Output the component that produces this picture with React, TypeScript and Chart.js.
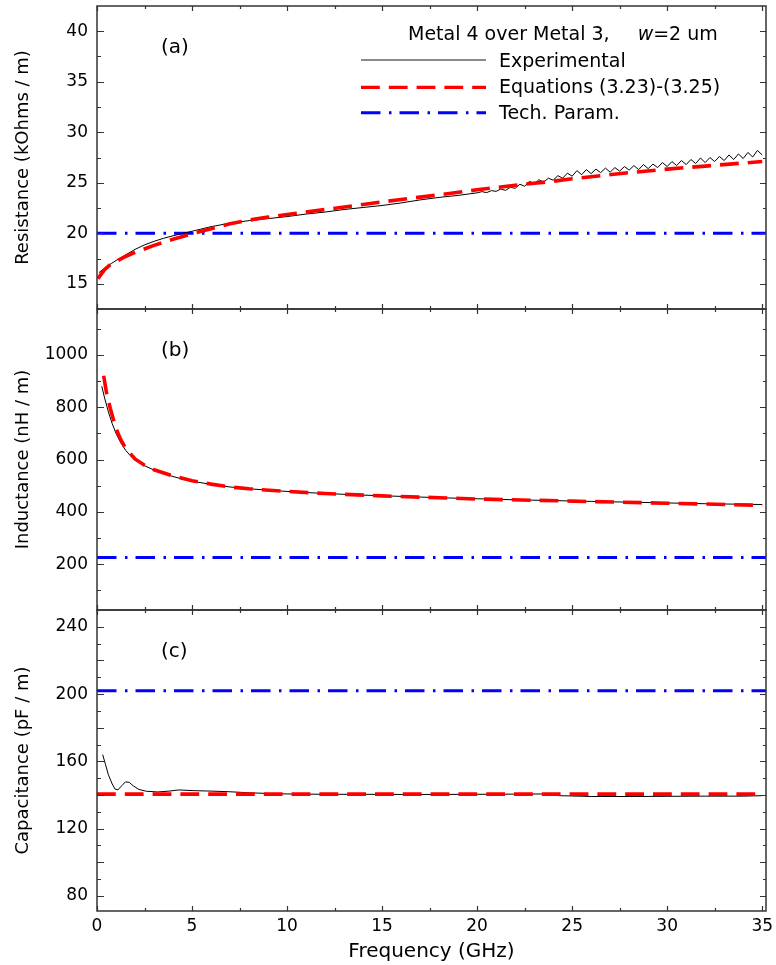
import { useEffect, useRef } from 'react';
import { Chart, registerables } from 'chart.js';

Chart.register(...registerables);

// ---------- tick values ----------
const freqTicks = [0, 5, 10, 15, 20, 25, 30, 35];
const freqMinorTicks = [2.5, 7.5, 12.5, 17.5, 22.5, 27.5, 32.5];
const resTicks = [15, 20, 25, 30, 35, 40];
const resMinorTicks = [17.5, 22.5, 27.5, 32.5, 37.5];
const indTicks = [200, 400, 600, 800, 1000];
const indMarkTicks = [200, 400, 600, 800, 1000];
const indMinorTicks = [100, 300, 500, 700, 900, 1100];
const capTicks = [80, 120, 160, 200, 240];
const capMarkTicks = [80, 100, 120, 140, 160, 180, 200, 220, 240];
const capMinorTicks = [90, 110, 130, 150, 170, 190, 210, 230];

// ---------- series (frequency GHz, value) ----------
const expResistance: [number, number][] = [
  [0.1, 16.1], [0.3, 16.4], [0.5, 16.7], [0.75, 17.0], [1, 17.3], [1.5, 17.85], [2, 18.4], [2.5, 18.85],
  [3, 19.2], [3.5, 19.5], [4, 19.75], [5, 20.2], [6, 20.65], [7, 21.0], [8, 21.25], [9, 21.45],
  [10, 21.65], [11, 21.9], [12, 22.1], [13, 22.35], [14, 22.55], [15, 22.75], [16, 23.0], [17, 23.3],
  [18, 23.55], [19, 23.75],
  [20.0, 24.0], [20.25, 24.12], [20.5, 24.02], [20.75, 24.22], [21.0, 24.15], [21.25, 24.38],
  [21.5, 24.25], [21.75, 24.55], [22.0, 24.45], [22.25, 24.85], [22.5, 24.65], [22.75, 25.15],
  [23.0, 24.9], [23.25, 25.3], [23.5, 25.05], [23.75, 25.45], [24.0, 25.25], [24.25, 25.7],
  [24.5, 25.45], [24.75, 25.95], [25.0, 25.65], [25.25, 26.2], [25.5, 25.8], [25.75, 26.3],
  [26.0, 25.9], [26.25, 26.35], [26.5, 26.0], [26.75, 26.45], [27.0, 26.05], [27.25, 26.5],
  [27.5, 26.15], [27.75, 26.6], [28.0, 26.25], [28.25, 26.7], [28.5, 26.3], [28.75, 26.8],
  [29.0, 26.4], [29.25, 26.85], [29.5, 26.5], [29.75, 27.0], [30.0, 26.6], [30.25, 27.1],
  [30.5, 26.7], [30.75, 27.2], [31.0, 26.8], [31.25, 27.3], [31.5, 26.9], [31.75, 27.45],
  [32.0, 27.0], [32.25, 27.5], [32.5, 27.1], [32.75, 27.6], [33.0, 27.2], [33.25, 27.75],
  [33.5, 27.3], [33.75, 27.85], [34.0, 27.4], [34.25, 28.0], [34.5, 27.55], [34.75, 28.2],
  [35.0, 27.75],
];
const eqResistance: [number, number][] = [
  [0.05, 15.5], [0.2, 15.9], [0.4, 16.4], [0.7, 16.9], [1, 17.2], [1.5, 17.7], [2, 18.1], [3, 18.8],
  [4, 19.4], [5, 19.95], [6, 20.45], [7, 20.95], [8, 21.3], [9, 21.6], [10, 21.85], [12, 22.35],
  [14, 22.85], [15, 23.1], [16, 23.35], [18, 23.8], [20, 24.3], [22, 24.75], [24, 25.15], [25, 25.4],
  [26, 25.6], [28, 26.0], [30, 26.35], [32, 26.65], [34, 26.95], [35, 27.1],
];
const techResistance: [number, number][] = [[0, 20], [35.2, 20]];

const expInductance: [number, number][] = [
  [0.25, 880], [0.4, 835], [0.6, 782], [0.8, 737], [1.0, 700], [1.25, 664], [1.5, 636], [1.75, 615],
  [2, 598], [2.5, 576], [3, 560], [3.5, 546], [4, 535], [4.5, 525], [5, 517], [6, 505], [7, 495],
  [8, 488], [9, 483], [10, 478], [12, 470], [14, 464], [16, 459], [18, 454], [20, 450], [22, 446],
  [24, 443], [26, 440], [28, 437], [30, 434], [32, 431], [34, 429], [35, 428],
];
const eqInductance: [number, number][] = [
  [0.35, 920], [0.5, 855], [0.7, 795], [1, 718], [1.25, 676], [1.5, 644], [2, 602], [2.5, 578],
  [3, 561], [4, 537], [5, 519], [6, 506], [7, 495], [8, 488], [10, 478], [12, 470], [15, 461],
  [18, 454], [20, 449], [25, 441], [30, 433], [35, 425],
];
const techInductance: [number, number][] = [[0, 226], [35.2, 226]];

const expCapacitance: [number, number][] = [
  [0.3, 164], [0.45, 158], [0.6, 152], [0.8, 146.5], [0.95, 143.5], [1.1, 143], [1.3, 145.5],
  [1.5, 147.8], [1.7, 147.5], [1.9, 145.5], [2.2, 143.3], [2.6, 142.2], [3.2, 141.8], [3.8, 142.3],
  [4.3, 143], [5, 142.6], [6, 142.3], [7, 141.9], [8, 141.3], [9, 140.9], [10, 140.6], [12, 140.4],
  [14, 140.4], [16, 140.3], [18, 140.3], [20, 140.4], [22, 140.5], [23.5, 140.6], [24.3, 139.6],
  [26, 139.1], [28, 139.1], [30, 139.2], [32, 139.3], [34, 139.3], [35, 139.6],
];
const eqCapacitance: [number, number][] = [[0, 140.5], [35, 140.5]];
const techCapacitance: [number, number][] = [[0, 202], [35.2, 202]];

const legendLabels = ['Experimental', 'Equations (3.23)-(3.25)', 'Tech. Param.'];
const panelLabels = ['(a)', '(b)', '(c)'];

// ---------- styles ----------
const FONT = 'DejaVu Sans';
const EXP_COLOR = '#000000';
const EQ_COLOR = '#ff0000';
const TECH_COLOR = '#0000ff';
const EQ_DASH = [18.8, 9];
const TECH_DASH = [19.5, 8.5, 2.5, 8];
const FRAME_COLOR = '#333333';

const toPts = (arr: [number, number][]) => arr.map(([x, y]) => ({ x, y }));

function mkSets(yAxisID: string, exp: [number, number][], eq: [number, number][], tech: [number, number][]) {
  return [
    { label: legendLabels[0], data: toPts(exp), yAxisID, borderColor: EXP_COLOR, borderWidth: 1, order: 2 },
    { label: legendLabels[1], data: toPts(eq), yAxisID, borderColor: EQ_COLOR, borderWidth: 3.6, borderDash: EQ_DASH, order: 1 },
    { label: legendLabels[2], data: toPts(tech), yAxisID, borderColor: TECH_COLOR, borderWidth: 3, borderDash: TECH_DASH, order: 3 },
  ];
}

const panels = [
  { id: 'yR', major: resTicks, minor: resMinorTicks },
  { id: 'yL', major: indMarkTicks, minor: indMinorTicks },
  { id: 'yC', major: capMarkTicks, minor: capMinorTicks },
];

const framePlugin = {
  id: 'frames',
  afterDatasetsDraw(chart: any) {
    const { ctx, chartArea, scales } = chart;
    const xs = scales.x;
    const L = chartArea.left;
    const R = chartArea.right;
    ctx.save();
    ctx.strokeStyle = FRAME_COLOR;
    panels.forEach((p) => {
      const s = scales[p.id];
      ctx.lineWidth = 1.5;
      ctx.strokeRect(L, s.top, R - L, s.bottom - s.top);
      ctx.lineWidth = 1.2;
      ctx.beginPath();
      p.major.forEach((v) => {
        const py = Math.round(s.getPixelForValue(v)) + 0.5;
        ctx.moveTo(L, py); ctx.lineTo(L + 7, py);
        ctx.moveTo(R, py); ctx.lineTo(R - 6, py);
      });
      p.minor.forEach((v) => {
        const py = Math.round(s.getPixelForValue(v)) + 0.5;
        ctx.moveTo(L, py); ctx.lineTo(L + 4, py);
        ctx.moveTo(R, py); ctx.lineTo(R - 3, py);
      });
      freqTicks.forEach((v) => {
        const px = Math.round(xs.getPixelForValue(v)) + 0.5;
        ctx.moveTo(px, s.top); ctx.lineTo(px, s.top + 5);
        ctx.moveTo(px, s.bottom); ctx.lineTo(px, s.bottom - 5);
      });
      freqMinorTicks.forEach((v) => {
        const px = Math.round(xs.getPixelForValue(v)) + 0.5;
        ctx.moveTo(px, s.top); ctx.lineTo(px, s.top + 3);
        ctx.moveTo(px, s.bottom); ctx.lineTo(px, s.bottom - 3);
      });
      ctx.stroke();
    });
    ctx.restore();
  },
  afterDraw(chart: any) {
    const { ctx, chartArea, scales } = chart;
    ctx.save();
    ctx.fillStyle = '#000';
    // panel labels
    ctx.font = `20px "${FONT}"`;
    ctx.textBaseline = 'middle';
    ctx.textAlign = 'left';
    panels.forEach((p, i) => {
      ctx.fillText(panelLabels[i], chartArea.left + 64, scales[p.id].top + 42);
    });
    // legend title
    const top = chartArea.top;
    ctx.textBaseline = 'alphabetic';
    ctx.font = `19px "${FONT}"`;
    const t1 = 'Metal 4 over Metal 3,';
    let tx = 408;
    ctx.fillText(t1, tx, top + 33.5);
    tx += ctx.measureText(t1).width + 28;
    ctx.font = `italic 19px "${FONT}"`;
    ctx.fillText('w', tx, top + 33.5);
    tx += ctx.measureText('w').width;
    ctx.font = `19px "${FONT}"`;
    ctx.fillText('=2 um', tx, top + 33.5);
    // legend entries
    const styles = [
      { color: '#8a8a8a', width: 2, dash: [] as number[] },
      { color: EQ_COLOR, width: 3.2, dash: EQ_DASH },
      { color: TECH_COLOR, width: 3, dash: TECH_DASH },
    ];
    const rowsLine = [54, 81.3, 106.7];
    const rowsText = [60.5, 86.5, 112.5];
    legendLabels.forEach((lab, i) => {
      const st = styles[i];
      ctx.save();
      ctx.strokeStyle = st.color;
      ctx.lineWidth = st.width;
      ctx.setLineDash(st.dash);
      ctx.beginPath();
      ctx.moveTo(361, top + rowsLine[i]);
      ctx.lineTo(486, top + rowsLine[i]);
      ctx.stroke();
      ctx.restore();
      ctx.fillText(lab, 499, top + rowsText[i]);
    });
    ctx.restore();
  },
};

function yAxis(min: number, max: number, weight: number, ticks: number[], title: string) {
  return {
    type: 'linear',
    position: 'left',
    stack: 'panels',
    stackWeight: weight,
    min,
    max,
    grid: { display: false, drawTicks: false },
    border: { display: false },
    ticks: { padding: 9, color: '#000', font: { size: 17, family: FONT }, callback: (v: any) => String(v) },
    afterBuildTicks: (axis: any) => { axis.ticks = ticks.map((v) => ({ value: v })); },
    afterFit: (axis: any) => {
      axis.width = 97;
      axis.paddingTop = 0;
      axis.paddingBottom = 0;
    },
    title: { display: true, text: title, color: '#000', font: { size: 18, family: FONT }, padding: { top: 13, bottom: 0 } },
  };
}

export default function App() {
  const ref = useRef<HTMLCanvasElement>(null);
  useEffect(() => {
    document.body.style.margin = '0';
    Chart.defaults.font.family = FONT;
    const chart = new Chart(ref.current as HTMLCanvasElement, {
      type: 'line',
      data: {
        datasets: [
          ...mkSets('yR', expResistance, eqResistance, techResistance),
          ...mkSets('yL', expInductance, eqInductance, techInductance),
          ...mkSets('yC', expCapacitance, eqCapacitance, techCapacitance),
        ] as any,
      },
      options: {
        animation: false,
        responsive: false,
        devicePixelRatio: 1,
        events: [],
        layout: { padding: { top: 6, right: 10, bottom: 0, left: 0 } },
        elements: { point: { radius: 0 }, line: { tension: 0, fill: false } },
        plugins: { legend: { display: false }, tooltip: { enabled: false } },
        scales: {
          x: {
            type: 'linear',
            min: 0,
            max: 35.2,
            grid: { display: false, drawTicks: false },
            border: { display: false },
            ticks: { padding: 5, color: '#000', autoSkip: false, maxRotation: 0, font: { size: 17, family: FONT } },
            afterBuildTicks: (axis: any) => { axis.ticks = freqTicks.map((v) => ({ value: v })); },
            afterFit: (axis: any) => {
              axis.height = 54;
              axis.paddingLeft = 0;
              axis.paddingRight = 0;
            },
            title: { display: true, text: 'Frequency (GHz)', color: '#000', font: { size: 20, family: FONT }, padding: { top: 0, bottom: 1 } },
          },
          // stacked scales are laid out bottom-to-top in definition order
          yC: yAxis(71, 250, 301, capTicks, 'Capacitance (pF / m)'),
          yL: yAxis(25, 1175, 301, indTicks, 'Inductance (nH / m)'),
          yR: yAxis(12.5, 42.5, 303, resTicks, 'Resistance (kOhms / m)'),
        } as any,
      },
      plugins: [framePlugin],
    });
    return () => chart.destroy();
  }, []);
  return (
    <div style={{ width: 776, height: 965 }}>
      <canvas ref={ref} width={776} height={965} style={{ display: 'block' }} />
    </div>
  );
}
